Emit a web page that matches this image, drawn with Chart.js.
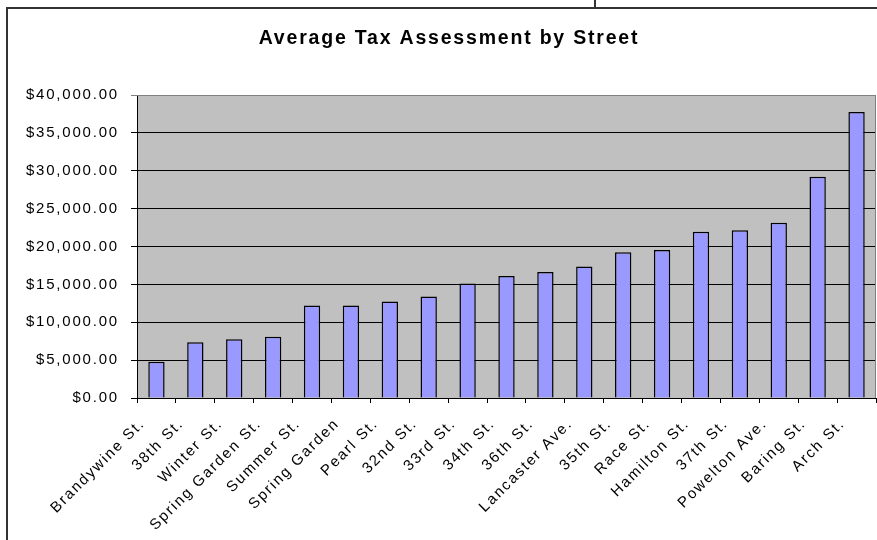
<!DOCTYPE html>
<html>
<head>
<meta charset="utf-8">
<title>Average Tax Assessment by Street</title>
<script src="https://cdn.jsdelivr.net/npm/chart.js@4/dist/chart.umd.min.js"></script>
<style>
    html, body { margin: 0; padding: 0; background: #fff; overflow: hidden; }
    #wrap { position: relative; width: 877px; height: 540px; }
    #frame { position: absolute; left: 6px; top: 7px; width: 1000px; height: 700px;
             border-top: 2px solid #333; border-left: 2px solid #333; }
    #stub { position: absolute; left: 594px; top: 0; width: 2px; height: 8px; background: #333; }
    #taxCanvas { position: absolute; left: 0; top: 0; }
</style>
</head>
<body>
<div id="wrap">
    <div id="frame"></div>
    <div id="stub"></div>
    <canvas id="taxCanvas" width="877" height="540"></canvas>
</div>
<script>
// Streets, sorted by average assessment
const streets = [
    'Brandywine St.', '38th St.', 'Winter St.', 'Spring Garden St.', 'Summer St.',
    'Spring Garden', 'Pearl St.', '32nd St.', '33rd St.', '34th St.', '36th St.',
    'Lancaster Ave.', '35th St.', 'Race St.', 'Hamilton St.', '37th St.',
    'Powelton Ave.', 'Baring St.', 'Arch St.'
];
// Average tax assessment in dollars
const avgAssessment = [
    4800, 7350, 7750, 8100, 12200,
    12200, 12750, 13400, 15100, 16100, 16650,
    17350, 19250, 19550, 21950, 22150,
    23150, 29200, 37750
];
// Y axis range and step
const yMax = 40000;
const yStep = 5000;

const fontFamily = '"Liberation Sans", Arial, sans-serif';

function dollars(v) {
    return '$' + Number(v).toLocaleString('en-US', { minimumFractionDigits: 2, maximumFractionDigits: 2 });
}

// Grey plot background, grey top/right edge, slightly wider text spacing
const plotArea = {
    id: 'plotArea',
    beforeDraw(chart) {
        const { ctx, chartArea: a } = chart;
        ctx.letterSpacing = '1.8px';
        ctx.save();
        ctx.fillStyle = '#c0c0c0';
        ctx.fillRect(a.left, a.top, a.right - a.left, a.bottom - a.top);
        ctx.restore();
    },
    afterDraw(chart) {
        const { ctx, chartArea: a } = chart;
        ctx.save();
        ctx.strokeStyle = '#808080';
        ctx.lineWidth = 1;
        ctx.beginPath();
        ctx.moveTo(a.left, a.top + 0.5);
        ctx.lineTo(a.right - 0.5, a.top + 0.5);
        ctx.lineTo(a.right - 0.5, a.bottom);
        ctx.stroke();
        ctx.restore();
    }
};

document.addEventListener('DOMContentLoaded', () => {
    const ctx = document.getElementById('taxCanvas').getContext('2d');
    new Chart(ctx, {
        type: 'bar',
        data: {
            labels: streets,
            datasets: [{
                label: 'Average Tax Assessment',
                data: avgAssessment,
                backgroundColor: '#9999ff',
                borderColor: '#000',
                borderWidth: 1.5,
                categoryPercentage: 1,
                barPercentage: 0.42
            }]
        },
        options: {
            responsive: false,
            animation: false,
            // left padding keeps the title centred over the framed panel
            layout: { padding: { left: 22, right: 1, top: 0, bottom: 0 } },
            plugins: {
                legend: { display: false },
                tooltip: { enabled: false },
                title: {
                    display: true,
                    text: 'Average Tax Assessment by Street',
                    color: '#000',
                    font: { family: fontFamily, size: 19.5, weight: 'bold' },
                    padding: { top: 27, bottom: 44.6 }
                }
            },
            scales: {
                x: {
                    afterFit: (s) => {
                        s.height = 142;
                        s.paddingLeft = 0;
                        s.paddingRight = 0;
                    },
                    grid: {
                        offset: true,
                        drawOnChartArea: false,
                        drawTicks: true,
                        tickLength: 5,
                        color: '#000'
                    },
                    border: { color: '#000', width: 1 },
                    ticks: {
                        autoSkip: false,
                        minRotation: 45,
                        maxRotation: 45,
                        color: '#000',
                        padding: 12,
                        labelOffset: -14,
                        font: { family: fontFamily, size: 15 }
                    }
                },
                y: {
                    min: 0,
                    max: yMax,
                    afterFit: (s) => { s.width = 115; },
                    grid: {
                        color: (c) => (c.tick && c.tick.value === yMax ? '#808080' : '#000'),
                        tickLength: 6,
                        lineWidth: 1
                    },
                    border: { color: '#000', width: 1 },
                    ticks: {
                        stepSize: yStep,
                        color: '#000',
                        padding: 12,
                        font: { family: fontFamily, size: 15 },
                        callback: (v) => dollars(v)
                    }
                }
            }
        },
        plugins: [plotArea]
    });
});
</script>
</body>
</html>
